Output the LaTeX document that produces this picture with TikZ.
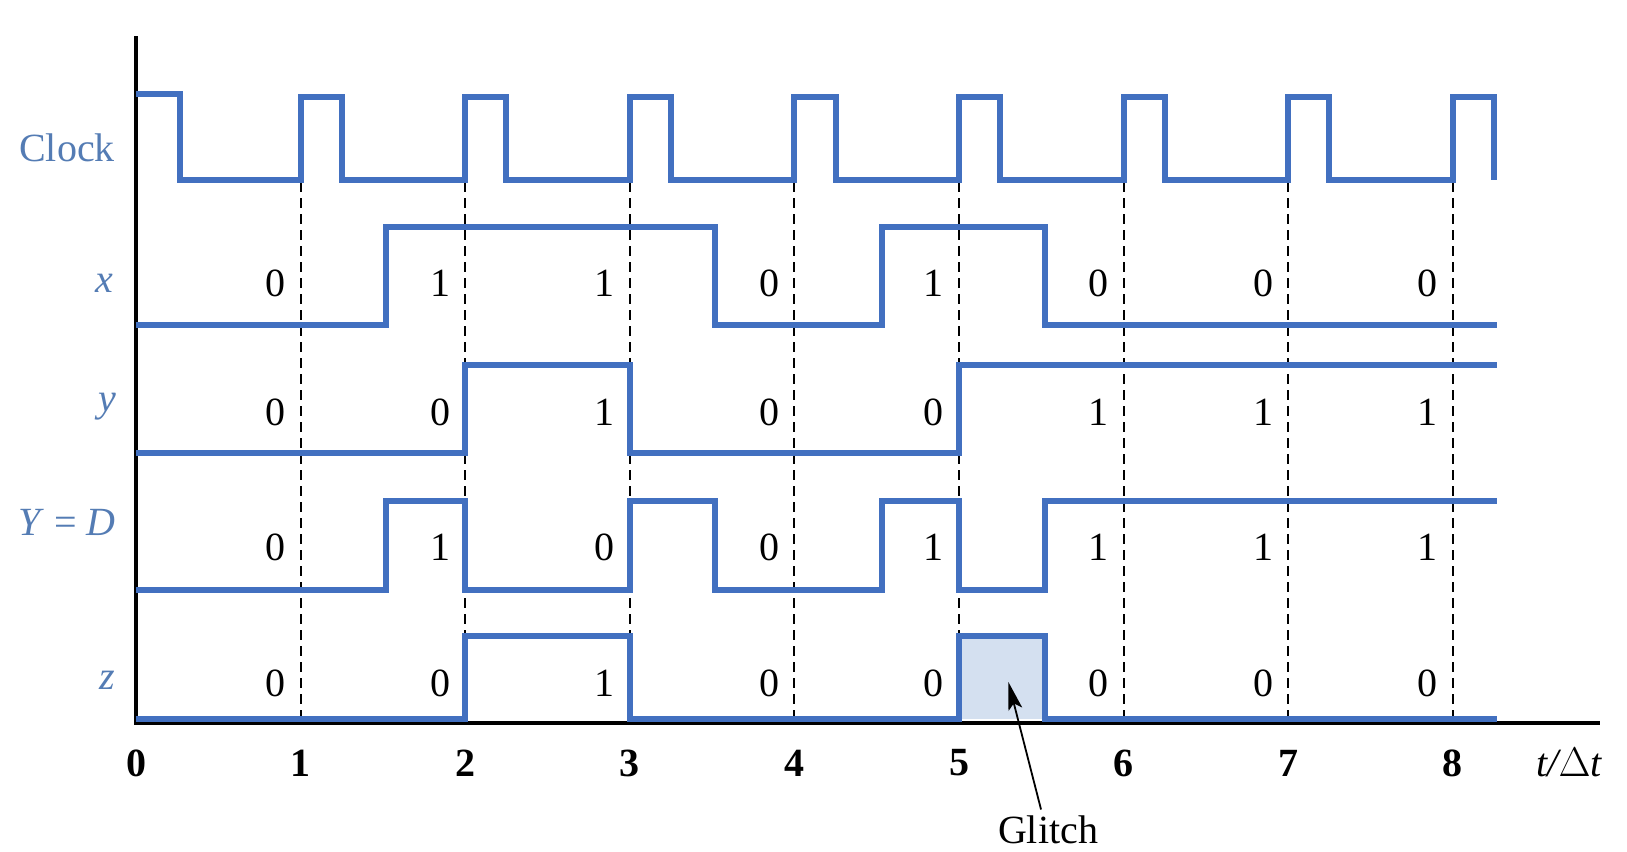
\documentclass[tikz,border=0pt]{standalone}
\usepackage{fontspec}
\setmainfont{Liberation Serif}
\usetikzlibrary{arrows.meta}
\definecolor{sig}{RGB}{66,112,192}
\definecolor{lab}{RGB}{84,124,180}
\definecolor{glitchfill}{RGB}{212,224,240}
\tikzset{
 wave/.style={draw=sig, line width=3pt, line join=miter},
 tickline/.style={black, dash pattern=on 5pt off 3pt, line width=1pt},
 axisline/.style={black, line width=1.8pt},
 val/.style={font=\fontsize{20}{20}\selectfont, inner sep=0pt},
 sname/.style={text=lab, font=\fontsize{20}{20}\selectfont, inner sep=0pt},
 tnum/.style={font=\fontsize{20}{20}\selectfont\bfseries, inner sep=0pt},
}
\begin{document}
\begin{tikzpicture}[x=82.3pt, y=-0.5pt]
\useasboundingbox[fill=white] (-0.8263,0) rectangle (9.0584,852);
% dashed time markers
\foreach \k in {1,...,8}{
  \coordinate (dt\k) at (\k,182);
  \coordinate (db\k) at (\k,723);
  \draw[tickline] (dt\k) -- (db\k);
}
% glitch shading
\fill[glitchfill] (5,636) rectangle (5.52,719);
% axes
\coordinate (ytop) at (0,36);
\coordinate (orig) at (0,723);
\coordinate (xend) at (8.894,723);
\draw[axisline] (ytop) -- (orig) -- (xend);
% clock
\draw[wave] (0,94) -- (0.27,94) -- (0.27,180)
  \foreach \k in {1,...,8}{ -- (\k,180) -- (\k,97) -- (\k+0.25,97) -- (\k+0.25,180) };
% x
\draw[wave] (0,325) -- (1.52,325) -- (1.52,227) -- (3.52,227) -- (3.52,325) -- (4.53,325) -- (4.53,227) -- (5.52,227) -- (5.52,325) -- (8.27,325);
% y
\draw[wave] (0,453) -- (2,453) -- (2,365) -- (3,365) -- (3,453) -- (5,453) -- (5,365) -- (8.27,365);
% Y = D
\draw[wave] (0,590) -- (1.52,590) -- (1.52,501) -- (2,501) -- (2,590) -- (3,590) -- (3,501) -- (3.52,501) -- (3.52,590) -- (4.53,590) -- (4.53,501) -- (5,501) -- (5,590) -- (5.52,590) -- (5.52,501) -- (8.27,501);
% z
\draw[wave] (0,719) -- (2,719) -- (2,636) -- (3,636) -- (3,719) -- (5,719) -- (5,636) -- (5.52,636) -- (5.52,719) -- (8.27,719);
% signal names
\node[sname] (nclk) at (-0.419,148) {Clock};
\node[sname] (nx) at (-0.194,283) {\itshape x};
\node[sname] (ny) at (-0.176,407) {\itshape y};
\node[sname] (nY) at (-0.419,522) {\itshape Y\/\upshape\ =\ \itshape D};
\node[sname] (nz) at (-0.176,680) {\itshape z};
% values
\foreach \v [count=\k] in {0,1,1,0,1,0,0,0}{ \node[val] (xv\k) at (\k-0.152,283) {\v}; }
\foreach \v [count=\k] in {0,0,1,0,0,1,1,1}{ \node[val] (yv\k) at (\k-0.152,412) {\v}; }
\foreach \v [count=\k] in {0,1,0,0,1,1,1,1}{ \node[val] (Yv\k) at (\k-0.152,547) {\v}; }
\foreach \v [count=\k] in {0,0,1,0,0,0,0,0}{ \node[val] (zv\k) at (\k-0.152,683) {\v}; }
% axis numbers
\foreach \k in {0,...,8}{ \node[tnum] (tn\k) at (\k,763) {\k}; }
\node[val] (tlab) at (8.706,763) {\itshape t/\upshape$\Delta$\itshape t};
% glitch
\node[val] (glitch) at (5.541,830) {Glitch};
\coordinate (gtip) at (5.30,682);
\draw[black, line width=0.9pt, -{Stealth[length=14pt,width=7pt,inset=3pt]}] ([xshift=-3.5pt,yshift=3pt]glitch.north) -- (gtip);
\end{tikzpicture}
\end{document}
